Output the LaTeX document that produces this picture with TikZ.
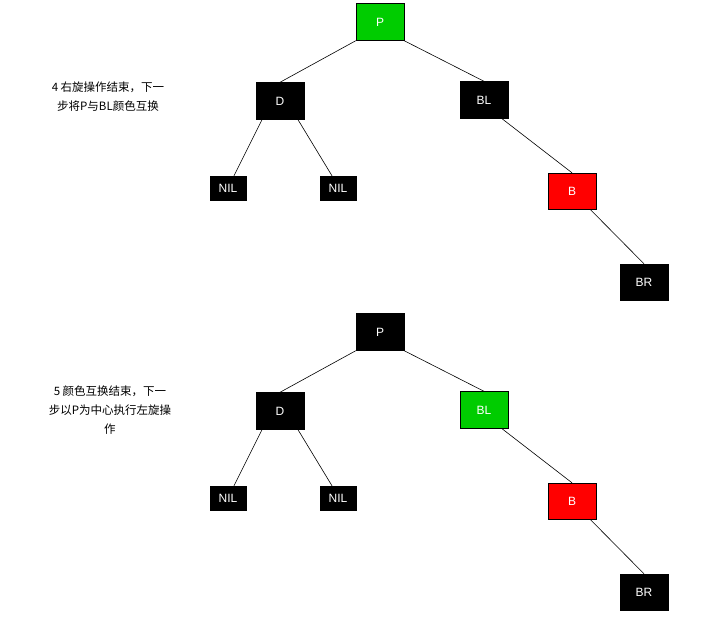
\documentclass[tikz,border=0pt]{standalone}
\usepackage{fontspec}
\setmainfont{Liberation Sans}
\newfontfamily\cjk{Noto Sans CJK SC}
\definecolor{gr}{HTML}{00CC00}
\begin{document}
\begin{tikzpicture}[x=1pt,y=-1pt,
  bx/.style={draw=black,fill=black,text=white,minimum width=48pt,minimum height=37pt,inner sep=0pt,font=\fontsize{12}{14}\selectfont},
  nl/.style={draw=black,fill=black,text=white,minimum width=36pt,minimum height=24pt,inner sep=0pt,font=\fontsize{12}{14}\selectfont},
  ln/.style={draw=black,line width=0.6pt},
  lab/.style={align=center,font=\cjk\fontsize{11.5}{19}\selectfont}]
\useasboundingbox (0,0) rectangle (713,624);
\foreach \o/\pc/\blc/\t/\txt in {0/gr/black/a/{4 右旋操作结束，下一\\步将P与BL颜色互换},310/black/gr/b/{5 颜色互换结束，下一\\步以P为中心执行左旋操\\作}}{
  \node[bx,fill=\pc,draw=black] (P\t) at (380,22+\o) {P};
  \node[bx] (D\t) at (280,101+\o) {D};
  \node[bx,fill=\blc,draw=black] (BL\t) at (484,100+\o) {BL};
  \node[nl] (N1\t) at (228,188+\o) {NIL};
  \node[nl] (N2\t) at (338,188+\o) {NIL};
  \node[bx,fill=red,draw=black,minimum height=36pt] (B\t) at (572,191+\o) {B};
  \node[bx,minimum height=36pt] (BR\t) at (644,282+\o) {BR};
  \draw[ln] (P\t.south west) -- (D\t.north);
  \draw[ln] (P\t.south east) -- (BL\t.north);
  \draw[ln] ([xshift=-18pt]D\t.south) -- ([xshift=6pt]N1\t.north);
  \draw[ln] ([xshift=18pt]D\t.south) -- ([xshift=-6pt]N2\t.north);
  \draw[ln] ([xshift=18pt]BL\t.south) -- (B\t.north);
  \draw[ln] ([xshift=18pt]B\t.south) -- (BR\t.north);
}
\node[lab] (L1) at (108,97) {4 右旋操作结束，下一\\步将P与BL颜色互换};
\node[lab] (L2) at (110,410) {5 颜色互换结束，下一\\步以P为中心执行左旋操\\作};
\end{tikzpicture}
\end{document}
